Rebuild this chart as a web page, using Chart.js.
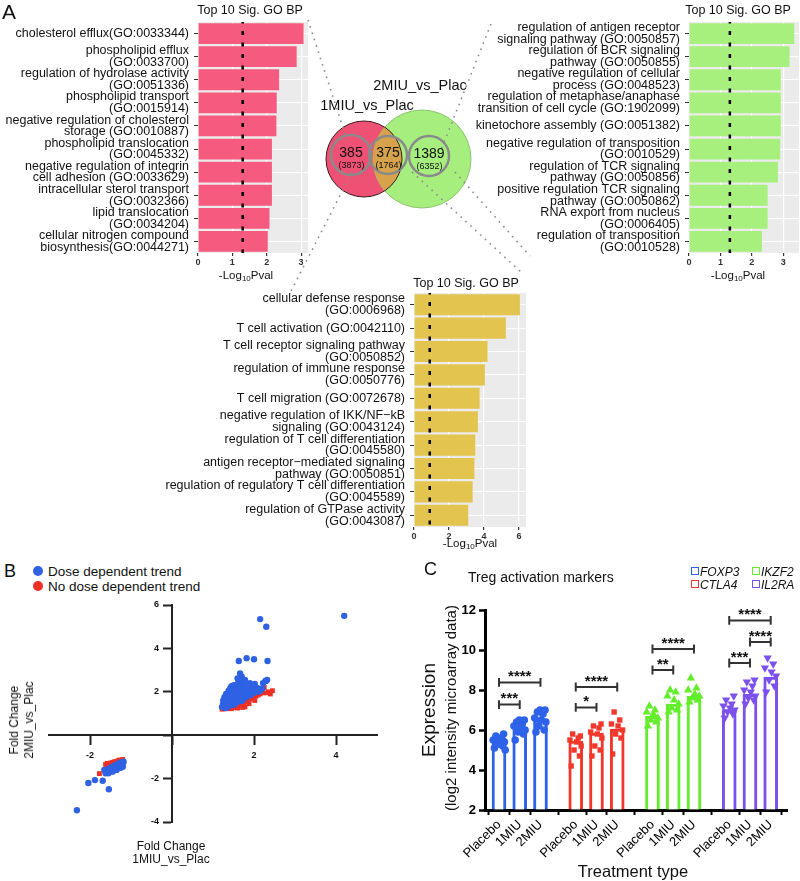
<!DOCTYPE html>
<html>
<head>
<meta charset="utf-8">
<script src="https://cdn.jsdelivr.net/npm/chart.js@4.4.1/dist/chart.umd.min.js"></script>
<style>
  body { margin: 0; width: 800px; height: 881px; position: relative; background: #fff; overflow: hidden;
         font-family: 'Liberation Sans', Arial, Helvetica, sans-serif; color: #111; }
  canvas, .t { position: absolute; }
  .t { white-space: nowrap; line-height: 1; }
  .cc { transform: translate(-50%, -50%); text-align: center; }
  .lc { transform: translate(0, -50%); }
  .rot { transform: translate(-50%, -50%) rotate(-90deg); text-align: center; }
  .sq { position: absolute; width: 6px; height: 6px; border: 1.5px solid; }
  .dot { position: absolute; width: 10px; height: 10px; border-radius: 50%; }
  sub { font-size: 8px; vertical-align: -2px; line-height: 0; }
</style>
</head>
<body>
<canvas id="goLeft" width="310" height="285" style="left:0;top:0"></canvas>
<canvas id="goRight" width="330" height="285" style="left:470px;top:0"></canvas>
<canvas id="goBottom" width="380" height="290" style="left:150px;top:270px"></canvas>
<canvas id="venn" width="800" height="560" style="left:0;top:0"></canvas>
<canvas id="scatterB" width="400" height="286" style="left:0;top:595px"></canvas>
<canvas id="barsC" width="400" height="321" style="left:400px;top:560px"></canvas>

<div class="t" style="left:2px;top:1px;font-size:21px">A</div>
<div class="t cc" style="left:250px;top:10px;font-size:12.5px">Top 10 Sig. GO BP</div>
<div class="t cc" style="left:738px;top:10px;font-size:12.5px">Top 10 Sig. GO BP</div>
<div class="t cc" style="left:466px;top:283px;font-size:12.5px">Top 10 Sig. GO BP</div>
<div class="t cc" style="left:246px;top:276px;font-size:11.5px">-Log<sub>10</sub>Pval</div>
<div class="t cc" style="left:738px;top:276px;font-size:11.5px">-Log<sub>10</sub>Pval</div>
<div class="t cc" style="left:470px;top:544px;font-size:11.5px">-Log<sub>10</sub>Pval</div>
<div class="t cc" style="left:367px;top:105px;font-size:14.5px">1MIU_vs_Plac</div>
<div class="t cc" style="left:420px;top:85px;font-size:14.5px">2MIU_vs_Plac</div>

<div class="t" style="left:4px;top:562px;font-size:18px">B</div>
<div class="dot" style="left:33px;top:566px;background:#2f62e3"></div>
<div class="t lc" style="left:48px;top:571.5px;font-size:13.5px">Dose dependent trend</div>
<div class="dot" style="left:33px;top:581px;background:#ee2f24"></div>
<div class="t lc" style="left:48px;top:586.5px;font-size:13.5px">No dose dependent trend</div>
<div class="t rot" style="left:22px;top:720px;font-size:12px;line-height:15px">Fold Change<br>2MIU_vs_Plac</div>
<div class="t cc" style="left:171px;top:853px;font-size:12px;line-height:13px">Fold Change<br>1MIU_vs_Plac</div>

<div class="t" style="left:424px;top:560px;font-size:18px">C</div>
<div class="t lc" style="left:468px;top:577px;font-size:14px">Treg activation markers</div>
<div class="sq" style="left:691px;top:567px;border-color:#2e62e8"></div>
<div class="t lc" style="left:700px;top:571.5px;font-size:12px;font-style:italic">FOXP3</div>
<div class="sq" style="left:691px;top:580px;border-color:#f2382b"></div>
<div class="t lc" style="left:700px;top:584.5px;font-size:12px;font-style:italic">CTLA4</div>
<div class="sq" style="left:752px;top:567px;border-color:#63ee2c"></div>
<div class="t lc" style="left:761px;top:571.5px;font-size:12px;font-style:italic">IKZF2</div>
<div class="sq" style="left:752px;top:580px;border-color:#7b50ec"></div>
<div class="t lc" style="left:761px;top:584.5px;font-size:12px;font-style:italic">IL2RA</div>
<div class="t rot" style="left:428px;top:710px;font-size:19px">Expression</div>
<div class="t rot" style="left:450px;top:708px;font-size:15px">(log2 intensity microarray data)</div>
<div class="t cc" style="left:633px;top:871px;font-size:16.5px">Treatment type</div>

<script>
Chart.defaults.font.family = "'Liberation Sans', Arial, Helvetica, sans-serif";
Chart.defaults.color = '#111';
Chart.defaults.animation = false;
Chart.defaults.plugins.legend.display = false;
Chart.defaults.plugins.tooltip.enabled = false;

// ---- Panel A: top GO terms per Venn region
const goLeftLabels = [
  'cholesterol efflux(GO:0033344)',
  ['phospholipid efflux', '(GO:0033700)'],
  ['regulation of hydrolase activity', '(GO:0051336)'],
  ['phospholipid transport', '(GO:0015914)'],
  ['negative regulation of cholesterol', 'storage (GO:0010887)'],
  ['phospholipid translocation', '(GO:0045332)'],
  ['negative regulation of integrin', 'cell adhesion (GO:0033629)'],
  ['intracellular sterol transport', '(GO:0032366)'],
  ['lipid translocation', '(GO:0034204)'],
  ['cellular nitrogen compound', 'biosynthesis(GO:0044271)']
];
const goLeftValues = [3.07, 2.87, 2.36, 2.29, 2.28, 2.15, 2.15, 2.15, 2.08, 2.03];

const goRightLabels = [
  ['regulation of antigen receptor', 'signaling pathway (GO:0050857)'],
  ['regulation of BCR signaling', 'pathway (GO:0050855)'],
  ['negative regulation of cellular', 'process (GO:0048523)'],
  ['regulation of metaphase/anaphase', 'transition of cell cycle (GO:1902099)'],
  'kinetochore assembly (GO:0051382)',
  ['negative regulation of transposition', '(GO:0010529)'],
  ['regulation of TCR signaling', 'pathway (GO:0050856)'],
  ['positive regulation TCR signaling', 'pathway (GO:0050862)'],
  ['RNA export from nucleus', '(GO:0006405)'],
  ['regulation of transposition', '(GO:0010528)']
];
const goRightValues = [3.35, 3.2, 2.92, 2.92, 2.92, 2.9, 2.83, 2.5, 2.5, 2.32];

const goBottomLabels = [
  ['cellular defense response', '(GO:0006968)'],
  'T cell activation (GO:0042110)',
  ['T cell receptor signaling pathway', '(GO:0050852)'],
  ['regulation of immune response', '(GO:0050776)'],
  'T cell migration (GO:0072678)',
  ['negative regulation of IKK/NF\u2212kB', 'signaling (GO:0043124)'],
  ['regulation of T cell differentiation', '(GO:0045580)'],
  ['antigen receptor\u2212mediated signaling', 'pathway (GO:0050851)'],
  ['regulation of regulatory T cell differentiation', '(GO:0045589)'],
  ['regulation of GTPase activity', '(GO:0043087)']
];
const goBottomValues = [6.05, 5.25, 4.2, 4.05, 3.75, 3.65, 3.5, 3.45, 3.35, 3.1];

const goCutoffs = [1.3, 1.3, 0.9];

// Venn counts: unique genes (total in brackets)
const vennCounts = [385, 375, 1389];
const vennTotals = [3873, 1764, 6352];

// ---- Panel B: fold changes
const doseX = [1.22,1.25,1.28,1.30,1.32,1.35,1.35,1.38,1.40,1.40,1.42,1.45,1.45,1.48,1.50,1.50,1.52,1.55,1.55,1.58,
  1.60,1.60,1.62,1.65,1.65,1.68,1.70,1.70,1.72,1.75,1.75,1.78,1.80,1.80,1.82,1.85,1.88,1.90,1.92,1.95,
  1.98,2.00,2.05,2.10,2.15,2.20,1.30,1.33,1.36,1.44,1.50,1.56,1.63,1.70,1.48,1.58,1.62,1.66,1.73,1.52,
  1.90,2.00,2.22,2.28,1.25,1.28,1.32,1.38,1.42,1.46,1.54,1.57,1.64,1.67,1.74,1.78,1.84,1.86,1.94,2.02,
  2.08,2.12,1.35,1.44,
  2.15,2.30,4.20,1.63,1.82,2.00,2.33,1.66,2.29,2.32,2.02,1.90,1.60,1.78,1.70,
  -1.60,-1.58,-1.55,-1.52,-1.50,-1.48,-1.45,-1.42,-1.40,-1.38,-1.35,-1.32,-1.30,-1.28,-1.25,-1.22,-1.20,-1.18,
  -1.62,-1.55,-1.45,-1.35,-1.25,-1.20,-1.65,
  -2.32,-2.04,-1.88,-1.69,-1.54];
const doseY = [1.30,1.45,1.55,1.35,1.65,1.50,1.80,1.40,1.70,2.00,1.55,1.90,2.25,1.60,1.75,2.10,1.45,1.95,2.25,1.65,
  1.85,2.15,1.55,2.00,2.40,1.75,1.90,2.20,1.65,2.05,2.35,1.80,1.95,2.25,1.75,2.10,1.90,2.20,1.85,2.05,
  1.95,2.15,2.05,2.00,2.05,2.15,1.25,1.28,1.32,1.38,1.40,1.50,1.60,1.58,2.28,2.30,2.50,2.60,2.50,2.30,
  2.32,2.30,2.40,2.50,1.60,1.75,1.90,2.05,2.15,1.72,1.62,2.05,1.70,2.18,1.88,2.12,1.92,2.28,2.20,2.08,
  2.18,2.10,1.65,1.80,
  5.35,5.00,5.50,3.42,3.55,3.50,3.42,2.84,2.50,2.55,2.36,2.40,2.62,2.55,2.70,
  -1.60,-1.70,-1.55,-1.65,-1.50,-1.60,-1.45,-1.55,-1.40,-1.50,-1.35,-1.45,-1.30,-1.40,-1.25,-1.35,-1.28,-1.22,
  -1.75,-1.75,-1.68,-1.60,-1.50,-1.45,-1.60,
  -3.46,-2.20,-2.07,-2.10,-2.49];
const noDoseX = [1.22,1.28,1.35,1.40,1.45,1.50,1.55,1.60,1.62,1.68,1.72,1.75,1.78,1.80,1.85,1.88,1.90,1.95,2.00,2.02,
  2.05,2.10,2.15,2.20,2.25,2.30,2.35,2.45,1.42,1.52,1.58,1.65,1.70,1.82,1.92,1.35,2.40,
  -1.77,-1.62,-1.58,-1.55,-1.50,-1.45,-1.40,-1.35,-1.30,-1.25,-1.20,-1.48,-1.38,-1.60];
const noDoseY = [1.20,1.22,1.22,1.25,1.22,1.28,1.30,1.25,1.40,1.45,1.28,1.50,1.30,1.55,1.60,1.45,1.65,1.70,1.75,1.60,
  1.80,1.85,1.90,1.95,2.20,1.95,2.00,2.05,1.35,1.40,1.48,1.55,1.62,1.70,1.78,1.30,1.90,
  -1.77,-1.35,-1.30,-1.35,-1.28,-1.25,-1.22,-1.20,-1.15,-1.15,-1.12,-1.32,-1.28,-1.40];
const bTicksX = [-2, 0, 2, 4];
const bTicksY = [-4, -2, 0, 2, 4, 6];

// ---- Panel C: Treg activation markers
const treatments = ['Placebo', '1MIU', '2MIU'];
const genes = ['FOXP3', 'CTLA4', 'IKZF2', 'IL2RA'];
const meanFOXP3 = [5.6, 6.15, 6.5];
const meanCTLA4 = [5.45, 5.85, 6.05];
const meanIKZF2 = [6.68, 7.3, 7.68];
const meanIL2RA = [7.02, 7.78, 8.65];
const dotsFOXP3 = [[5.1,5.2,5.3,5.4,5.5,5.5,5.6,5.7,5.8,5.3,5.0],[5.5,5.8,5.9,6.0,6.1,6.2,6.3,6.4,6.5,6.5],[5.9,6.0,6.2,6.4,6.5,6.6,6.8,6.9,7.0,7.0]];
const dotsCTLA4 = [[4.2,4.7,5.0,5.2,5.4,5.5,5.6,5.8,5.7],[4.7,5.0,5.2,5.6,5.8,5.9,6.1,6.2,6.3],[4.8,5.6,5.8,6.0,6.2,6.3,6.5,6.9]];
const dotsIKZF2 = [[6.2,6.4,6.5,6.6,6.8,6.9,7.0,7.2],[6.9,7.0,7.1,7.3,7.5,7.7,7.9,8.0],[7.4,7.5,7.6,7.7,7.8,8.0,8.1,8.6]];
const dotsIL2RA = [[6.6,6.8,6.9,7.0,7.1,7.2,7.3,7.5,7.7],[7.3,7.5,7.6,7.7,7.9,8.0,8.2,8.4,8.5],[7.9,8.2,8.5,8.7,8.9,9.1,9.3,9.6]];
// significance brackets: gene index, from/to treatment index, height, stars
const sigGene  = [0, 0, 1, 1, 2, 2, 3, 3, 3];
const sigFrom  = [0, 0, 0, 0, 0, 0, 0, 1, 0];
const sigTo    = [1, 2, 1, 2, 1, 2, 1, 2, 2];
const sigY     = [7.27, 8.38, 7.13, 8.15, 9.0, 10.05, 9.35, 10.4, 11.48];
const sigStars = ['***', '****', '*', '****', '**', '****', '***', '****', '****'];

// ---------------------------------------------------------------- Panel A charts
function goChart(id, labels, values, color, cutoff, o) {
  return new Chart(document.getElementById(id), {
    type: 'bar',
    data: {labels, datasets: [{data: values, backgroundColor: color, barPercentage: 0.9, categoryPercentage: 1}]},
    options: {
      indexAxis: 'y',
      responsive: false,
      layout: {padding: {top: o.top, right: o.right, left: 0, bottom: 0}},
      scales: {
        x: {
          min: 0, max: o.max,
          afterBuildTicks: s => { s.ticks = o.ticks.map(v => ({value: v})); },
          afterFit: s => { s.height = o.xh; },
          ticks: {font: {size: 9, weight: 'bold'}, color: '#333', padding: 1, maxRotation: 0},
          grid: {color: '#fff', lineWidth: 1.2, tickLength: 3, tickColor: '#333'},
          border: {display: false}
        },
        y: {
          afterFit: s => { s.width = o.yw; },
          ticks: {font: {size: 12.5, lineHeight: 0.94}, color: '#111', padding: 5, autoSkip: false},
          grid: {color: '#fff', lineWidth: 1, offset: false, tickLength: 4, tickColor: '#333'},
          border: {display: false}
        }
      }
    },
    plugins: [{
      id: 'goPanel',
      beforeDraw(c) {
        const a = c.chartArea, ctx = c.ctx;
        ctx.save();
        ctx.fillStyle = '#ebebeb';
        ctx.fillRect(a.left, a.top, a.right - a.left, a.bottom - a.top);
        ctx.restore();
      },
      afterDatasetsDraw(c) {
        const a = c.chartArea, ctx = c.ctx;
        const px = c.scales.x.getPixelForValue(cutoff);
        ctx.save();
        ctx.strokeStyle = '#000';
        ctx.lineWidth = 2.5;
        ctx.setLineDash([4, 7.5]);
        ctx.lineDashOffset = -9;
        ctx.beginPath();
        ctx.moveTo(px, a.top);
        ctx.lineTo(px, a.bottom);
        ctx.stroke();
        ctx.restore();
      }
    }]
  });
}

goChart('goLeft', goLeftLabels, goLeftValues, '#f65a7f', goCutoffs[0],
  {top: 22, right: 2, yw: 198, xh: 32, max: 3.2, ticks: [0, 1, 2, 3]});
goChart('goRight', goRightLabels, goRightValues, '#a8f07d', goCutoffs[1],
  {top: 22, right: 1, yw: 219, xh: 32, max: 3.5, ticks: [0, 1, 2, 3]});
goChart('goBottom', goBottomLabels, goBottomValues, '#e3c44e', goCutoffs[2],
  {top: 23, right: 4, yw: 264, xh: 33, max: 6.4, ticks: [0, 2, 4, 6]});

// ---------------------------------------------------------------- Venn + connectors (overlay)
// layout, in page pixels (the overlay scales map 1:1 onto the page)
const vennCircleX = [364, 422], vennCircleY = [159, 159], vennCircleR = [38, 49];
const ringX = [351, 388, 429], ringY = [155, 155, 156], ringR = [20, 19, 20];
const connectors = [
  [[308, 20], [347, 140]],
  [[352, 172], [289, 295]],
  [[491, 24], [441, 150]],
  [[412, 172], [521, 272]],
  [[455, 172], [530, 256]]
];

vennCounts.forEach((n, i) => {
  const d1 = document.createElement('div');
  d1.className = 't cc';
  d1.style.cssText = `left:${ringX[i]}px;top:${ringY[i] - 3}px;font-size:14px`;
  d1.textContent = n;
  document.body.appendChild(d1);
  const d2 = document.createElement('div');
  d2.className = 't cc';
  d2.style.cssText = `left:${ringX[i] + 0.5}px;top:${ringY[i] + 9.5}px;font-size:9px`;
  d2.textContent = '(' + vennTotals[i] + ')';
  document.body.appendChild(d2);
});

new Chart(document.getElementById('venn'), {
  type: 'scatter',
  data: {
    datasets: connectors.map(seg => ({
      data: seg.map(p => ({x: p[0], y: p[1]})),
      showLine: true, pointRadius: 0, borderColor: '#8c8c8c', borderWidth: 1.6, borderDash: [1.6, 5]
    }))
  },
  options: {
    responsive: false,
    layout: {padding: 0},
    scales: {
      x: {type: 'linear', min: 0, max: 800, display: false},
      y: {type: 'linear', min: 0, max: 560, reverse: true, display: false}
    }
  },
  plugins: [{
    id: 'vennCircles',
    beforeDatasetsDraw(c) {
      const ctx = c.ctx, sx = c.scales.x, sy = c.scales.y;
      const circ = (x, y, r) => {
        const px = sx.getPixelForValue(x), py = sy.getPixelForValue(y);
        const pr = sx.getPixelForValue(x + r) - px;
        ctx.beginPath();
        ctx.arc(px, py, pr, 0, Math.PI * 2);
      };
      ctx.save();
      circ(vennCircleX[0], vennCircleY[0], vennCircleR[0]);
      ctx.fillStyle = '#ee5173'; ctx.fill();
      circ(vennCircleX[1], vennCircleY[1], vennCircleR[1]);
      ctx.fillStyle = '#a6ef7f'; ctx.fill();
      ctx.strokeStyle = '#8cc472'; ctx.lineWidth = 1; ctx.stroke();
      // overlap
      ctx.save();
      circ(vennCircleX[0], vennCircleY[0], vennCircleR[0]);
      ctx.clip();
      circ(vennCircleX[1], vennCircleY[1], vennCircleR[1]);
      ctx.fillStyle = '#d6a24c'; ctx.fill();
      ctx.restore();
      circ(vennCircleX[0], vennCircleY[0], vennCircleR[0]);
      ctx.strokeStyle = '#3a1a1a'; ctx.lineWidth = 1; ctx.stroke();
      ringX.forEach((x, i) => {
        circ(x, ringY[i], ringR[i]);
        ctx.strokeStyle = '#8a8a8a'; ctx.lineWidth = 2.5; ctx.stroke();
      });
      ctx.restore();
    }
  }]
});

// ---------------------------------------------------------------- Panel B scatter
new Chart(document.getElementById('scatterB'), {
  type: 'scatter',
  data: {
    datasets: [
      {label: 'Dose dependent trend', data: doseX.map((x, i) => ({x, y: doseY[i]})),
       pointStyle: 'circle', pointRadius: 3.2, backgroundColor: '#2f62e3', borderWidth: 0},
      {label: 'No dose dependent trend', data: noDoseX.map((x, i) => ({x, y: noDoseY[i]})),
       pointStyle: 'rect', pointRadius: 3.4, backgroundColor: '#ee2f24', borderWidth: 0}
    ]
  },
  options: {
    responsive: false,
    layout: {padding: {left: 49, right: 23, top: 10, bottom: 59}},
    scales: {
      x: {
        type: 'linear', min: -3, max: 5, position: {y: 0},
        afterFit: s => { s.height = 0; },
        afterBuildTicks: s => { s.ticks = bTicksX.map(v => ({value: v})); },
        ticks: {callback: v => v === 0 ? '' : v, font: {size: 9, weight: 'bold'}, color: '#111', padding: 6, maxRotation: 0},
        grid: {drawOnChartArea: false, tickLength: 9, tickWidth: 2, tickColor: '#222'},
        border: {color: '#222', width: 2}
      },
      y: {
        type: 'linear', min: -4, max: 6, position: {x: 0},
        afterFit: s => { s.width = 0; },
        afterBuildTicks: s => { s.ticks = bTicksY.map(v => ({value: v})); },
        ticks: {display: false},
        grid: {drawOnChartArea: false, tickLength: 8, tickWidth: 2, tickColor: '#222'},
        border: {color: '#222', width: 2}
      }
    }
  },
  plugins: [{
    id: 'yLabels',
    afterDraw(c) {
      const ctx = c.ctx, sx = c.scales.x, sy = c.scales.y;
      const x0 = sx.getPixelForValue(0);
      ctx.save();
      ctx.fillStyle = '#111';
      ctx.font = "bold 9px 'Liberation Sans', Arial, sans-serif";
      ctx.textAlign = 'right';
      ctx.textBaseline = 'middle';
      bTicksY.forEach(v => { if (v !== 0) ctx.fillText(String(v), x0 - 13, sy.getPixelForValue(v)); });
      ctx.restore();
    }
  }]
});

// ---------------------------------------------------------------- Panel C bars
const geneColors = ['#2e62e8', '#f2382b', '#63ee2c', '#7b50ec'];
const geneMeans = [meanFOXP3, meanCTLA4, meanIKZF2, meanIL2RA];
const geneDots = [dotsFOXP3, dotsCTLA4, dotsIKZF2, dotsIL2RA];
const geneStyle = [
  {pointStyle: 'circle', pointRadius: 3.8, rotation: 0},
  {pointStyle: 'rect', pointRadius: 3.8, rotation: 0},
  {pointStyle: 'triangle', pointRadius: 4.8, rotation: 0},
  {pointStyle: 'triangle', pointRadius: 4.8, rotation: 180}
];
const jitter = [-0.22, 0.18, -0.08, 0.26, 0.04, -0.28, 0.12, -0.15, 0.22, -0.02, 0.3];
const slot = (g, t) => g * 3.7 + t;
const slotTicks = [], slotNames = [];
genes.forEach((g, gi) => treatments.forEach((t, ti) => { slotTicks.push(slot(gi, ti)); slotNames.push(t); }));

const cDatasets = [];
genes.forEach((g, gi) => {
  cDatasets.push({
    type: 'bar', label: g,
    data: treatments.map((t, ti) => ({x: slot(gi, ti), y: geneMeans[gi][ti]})),
    backgroundColor: '#fff', borderColor: geneColors[gi], borderWidth: 3,
    barThickness: 14, grouped: false, base: 2, borderSkipped: 'start', order: 3
  });
  const pts = [];
  geneDots[gi].forEach((vals, ti) => vals.forEach((v, k) => pts.push({x: slot(gi, ti) + jitter[k % jitter.length], y: v})));
  cDatasets.push({
    type: 'scatter', data: pts, backgroundColor: geneColors[gi], borderWidth: 0, order: 2,
    pointStyle: geneStyle[gi].pointStyle, pointRadius: geneStyle[gi].pointRadius, rotation: geneStyle[gi].rotation
  });
});
sigY.forEach((y, i) => {
  const x1 = slot(sigGene[i], sigFrom[i]), x2 = slot(sigGene[i], sigTo[i]), h = 0.22;
  cDatasets.push({
    type: 'line', order: 1, pointRadius: 0, borderColor: '#333', borderWidth: 2, tension: 0,
    data: [{x: x1, y: y + h}, {x: x1, y: y - h}, {x: x1, y}, {x: x2, y}, {x: x2, y: y + h}, {x: x2, y: y - h}]
  });
});

new Chart(document.getElementById('barsC'), {
  type: 'bar',
  data: {datasets: cDatasets},
  options: {
    responsive: false,
    layout: {padding: {left: 0, right: 13, top: 50, bottom: 0}},
    scales: {
      x: {
        type: 'linear', min: -0.675, max: 13.885, offset: false,
        afterFit: s => { s.height = 71; },
        afterBuildTicks: s => { s.ticks = slotTicks.map(v => ({value: v})); },
        ticks: {callback: (v, i) => slotNames[i], font: {size: 13}, color: '#000', minRotation: 45, maxRotation: 45, padding: 2},
        grid: {drawOnChartArea: false, tickLength: 5, tickWidth: 2, tickColor: '#000'},
        border: {color: '#000', width: 3}
      },
      y: {
        min: 2, max: 12,
        afterFit: s => { s.width = 85; },
        ticks: {stepSize: 2, font: {size: 13, weight: 'bold'}, color: '#000', padding: 3},
        grid: {drawOnChartArea: false, tickLength: 6, tickWidth: 2.5, tickColor: '#000'},
        border: {color: '#000', width: 3}
      }
    }
  },
  plugins: [{
    id: 'stars',
    afterDatasetsDraw(c) {
      const ctx = c.ctx, sx = c.scales.x, sy = c.scales.y;
      ctx.save();
      ctx.fillStyle = '#111';
      ctx.font = "bold 15px 'Liberation Sans', Arial, sans-serif";
      ctx.textAlign = 'center';
      ctx.textBaseline = 'alphabetic';
      sigY.forEach((y, i) => {
        const xm = (slot(sigGene[i], sigFrom[i]) + slot(sigGene[i], sigTo[i])) / 2;
        ctx.fillText(sigStars[i], sx.getPixelForValue(xm), sy.getPixelForValue(y) - 1.5);
      });
      ctx.restore();
    }
  }]
});
</script>
</body>
</html>
